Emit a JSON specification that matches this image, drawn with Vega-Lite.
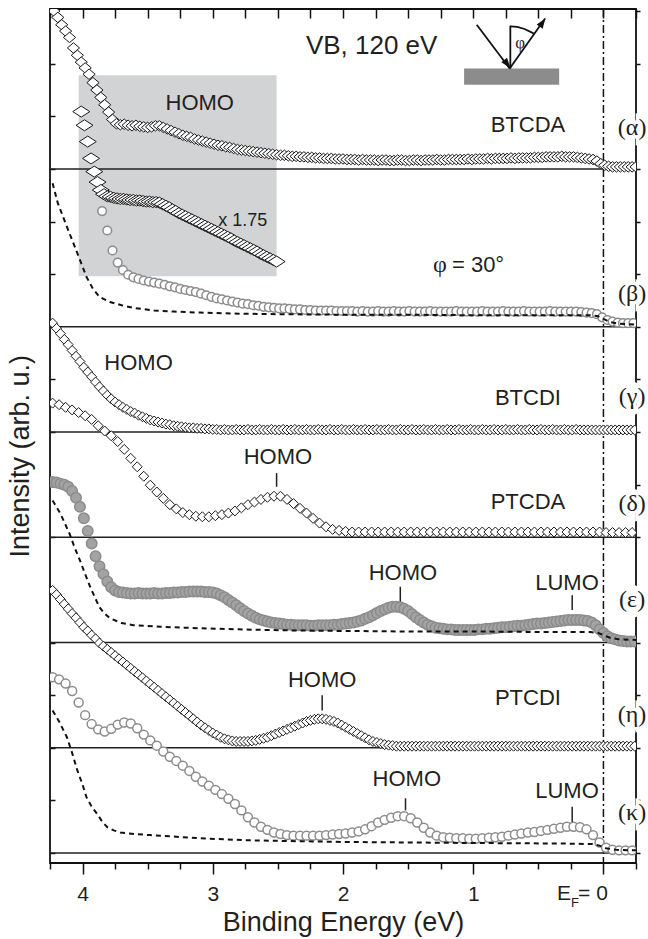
{
"$schema":"https://vega.github.io/schema/vega-lite/v6.json",
"width":586,"height":854,
"autosize":{"type":"none"},
"padding":{"left":50,"top":9,"right":12,"bottom":76},
"background":"white",
"config":{"view":{"stroke":"#111","strokeWidth":1.8},"font":"Liberation Sans"},
"datasets":{
"box":[{"e":4.03,"e2":2.51,"i":14.78,"i2":10.96}],
"marks":[{"e":2.51,"i":7.22,"i2":6.96},{"e":1.56,"i":5.06,"i2":4.77},{"e":0.24,"i":4.9,"i2":4.62},{"e":2.16,"i":3.0,"i2":2.71},{"e":1.52,"i":1.04,"i2":0.81},{"e":0.24,"i":0.88,"i2":0.59}],
"alpha":[{"e":4.22,"i":16.0},{"e":4.19,"i":15.88},{"e":4.16,"i":15.74},{"e":4.13,"i":15.62},{"e":4.1,"i":15.5},{"e":4.07,"i":15.3},{"e":4.04,"i":15.16},{"e":4.01,"i":15.03},{"e":3.98,"i":14.92},{"e":3.95,"i":14.8},{"e":3.92,"i":14.64},{"e":3.89,"i":14.5},{"e":3.86,"i":14.36},{"e":3.83,"i":14.22},{"e":3.8,"i":14.08},{"e":3.77,"i":13.94},{"e":3.74,"i":13.86},{"e":3.71,"i":13.84},{"e":3.68,"i":13.85},{"e":3.65,"i":13.83},{"e":3.62,"i":13.82},{"e":3.59,"i":13.83},{"e":3.56,"i":13.81},{"e":3.53,"i":13.8},{"e":3.5,"i":13.79},{"e":3.47,"i":13.8},{"e":3.44,"i":13.82},{"e":3.41,"i":13.82},{"e":3.38,"i":13.79},{"e":3.35,"i":13.76},{"e":3.32,"i":13.73},{"e":3.29,"i":13.7},{"e":3.26,"i":13.67},{"e":3.23,"i":13.64},{"e":3.2,"i":13.62},{"e":3.17,"i":13.6},{"e":3.14,"i":13.57},{"e":3.11,"i":13.55},{"e":3.08,"i":13.53},{"e":3.05,"i":13.51},{"e":3.02,"i":13.49},{"e":2.99,"i":13.47},{"e":2.96,"i":13.45},{"e":2.93,"i":13.44},{"e":2.9,"i":13.42},{"e":2.87,"i":13.41},{"e":2.84,"i":13.39},{"e":2.81,"i":13.37},{"e":2.78,"i":13.36},{"e":2.75,"i":13.35},{"e":2.72,"i":13.34},{"e":2.69,"i":13.33},{"e":2.66,"i":13.32},{"e":2.63,"i":13.31},{"e":2.6,"i":13.3},{"e":2.57,"i":13.29},{"e":2.54,"i":13.28},{"e":2.51,"i":13.27},{"e":2.48,"i":13.26},{"e":2.45,"i":13.26},{"e":2.42,"i":13.25},{"e":2.39,"i":13.24},{"e":2.36,"i":13.24},{"e":2.33,"i":13.23},{"e":2.3,"i":13.23},{"e":2.27,"i":13.22},{"e":2.24,"i":13.22},{"e":2.21,"i":13.21},{"e":2.18,"i":13.21},{"e":2.15,"i":13.2},{"e":2.12,"i":13.2},{"e":2.09,"i":13.2},{"e":2.06,"i":13.19},{"e":2.03,"i":13.19},{"e":2.0,"i":13.19},{"e":1.97,"i":13.18},{"e":1.94,"i":13.18},{"e":1.91,"i":13.18},{"e":1.88,"i":13.17},{"e":1.85,"i":13.18},{"e":1.82,"i":13.17},{"e":1.79,"i":13.17},{"e":1.76,"i":13.17},{"e":1.73,"i":13.16},{"e":1.7,"i":13.17},{"e":1.67,"i":13.17},{"e":1.64,"i":13.16},{"e":1.61,"i":13.16},{"e":1.58,"i":13.17},{"e":1.55,"i":13.17},{"e":1.52,"i":13.16},{"e":1.49,"i":13.16},{"e":1.46,"i":13.17},{"e":1.43,"i":13.17},{"e":1.4,"i":13.16},{"e":1.37,"i":13.17},{"e":1.34,"i":13.17},{"e":1.31,"i":13.17},{"e":1.28,"i":13.18},{"e":1.25,"i":13.17},{"e":1.22,"i":13.17},{"e":1.19,"i":13.18},{"e":1.16,"i":13.18},{"e":1.13,"i":13.18},{"e":1.1,"i":13.18},{"e":1.07,"i":13.18},{"e":1.04,"i":13.19},{"e":1.01,"i":13.18},{"e":0.98,"i":13.19},{"e":0.95,"i":13.19},{"e":0.92,"i":13.19},{"e":0.89,"i":13.2},{"e":0.86,"i":13.19},{"e":0.83,"i":13.2},{"e":0.8,"i":13.2},{"e":0.77,"i":13.2},{"e":0.74,"i":13.2},{"e":0.71,"i":13.21},{"e":0.68,"i":13.2},{"e":0.65,"i":13.21},{"e":0.62,"i":13.21},{"e":0.59,"i":13.21},{"e":0.56,"i":13.21},{"e":0.53,"i":13.22},{"e":0.5,"i":13.22},{"e":0.47,"i":13.22},{"e":0.44,"i":13.23},{"e":0.41,"i":13.23},{"e":0.38,"i":13.23},{"e":0.35,"i":13.23},{"e":0.32,"i":13.24},{"e":0.29,"i":13.23},{"e":0.26,"i":13.23},{"e":0.23,"i":13.23},{"e":0.2,"i":13.22},{"e":0.17,"i":13.21},{"e":0.14,"i":13.2},{"e":0.11,"i":13.19},{"e":0.08,"i":13.18},{"e":0.05,"i":13.15},{"e":0.02,"i":13.1},{"e":-0.01,"i":13.07},{"e":-0.04,"i":13.05},{"e":-0.07,"i":13.04},{"e":-0.1,"i":13.04},{"e":-0.13,"i":13.04},{"e":-0.16,"i":13.04},{"e":-0.19,"i":13.04},{"e":-0.22,"i":13.04},{"e":-0.25,"i":13.04}],
"mag":[{"e":4.01,"i":14.09},{"e":3.985,"i":13.83},{"e":3.96,"i":13.52},{"e":3.935,"i":13.2},{"e":3.91,"i":12.95},{"e":3.885,"i":12.75},{"e":3.86,"i":12.6},{"e":3.835,"i":12.52},{"e":3.81,"i":12.48},{"e":3.785,"i":12.47},{"e":3.76,"i":12.45},{"e":3.735,"i":12.44},{"e":3.71,"i":12.43},{"e":3.685,"i":12.43},{"e":3.66,"i":12.42},{"e":3.635,"i":12.41},{"e":3.61,"i":12.41},{"e":3.585,"i":12.4},{"e":3.56,"i":12.4},{"e":3.535,"i":12.39},{"e":3.51,"i":12.38},{"e":3.485,"i":12.38},{"e":3.46,"i":12.37},{"e":3.435,"i":12.37},{"e":3.41,"i":12.36},{"e":3.385,"i":12.33},{"e":3.36,"i":12.3},{"e":3.335,"i":12.27},{"e":3.31,"i":12.23},{"e":3.285,"i":12.2},{"e":3.26,"i":12.16},{"e":3.235,"i":12.13},{"e":3.21,"i":12.1},{"e":3.185,"i":12.07},{"e":3.16,"i":12.04},{"e":3.135,"i":12.01},{"e":3.11,"i":11.98},{"e":3.085,"i":11.95},{"e":3.06,"i":11.92},{"e":3.035,"i":11.89},{"e":3.01,"i":11.86},{"e":2.985,"i":11.83},{"e":2.96,"i":11.8},{"e":2.935,"i":11.77},{"e":2.91,"i":11.74},{"e":2.885,"i":11.71},{"e":2.86,"i":11.68},{"e":2.835,"i":11.64},{"e":2.81,"i":11.61},{"e":2.785,"i":11.58},{"e":2.76,"i":11.55},{"e":2.735,"i":11.52},{"e":2.71,"i":11.49},{"e":2.685,"i":11.46},{"e":2.66,"i":11.43},{"e":2.635,"i":11.39},{"e":2.61,"i":11.36},{"e":2.585,"i":11.33},{"e":2.56,"i":11.3},{"e":2.535,"i":11.27},{"e":2.51,"i":11.24}],
"beta":[{"e":3.85,"i":12.2},{"e":3.81,"i":11.83},{"e":3.77,"i":11.45},{"e":3.73,"i":11.22},{"e":3.69,"i":11.08},{"e":3.65,"i":10.99},{"e":3.61,"i":10.94},{"e":3.57,"i":10.91},{"e":3.53,"i":10.88},{"e":3.49,"i":10.86},{"e":3.45,"i":10.84},{"e":3.41,"i":10.82},{"e":3.37,"i":10.8},{"e":3.33,"i":10.77},{"e":3.29,"i":10.75},{"e":3.25,"i":10.72},{"e":3.21,"i":10.7},{"e":3.17,"i":10.68},{"e":3.13,"i":10.66},{"e":3.09,"i":10.63},{"e":3.05,"i":10.6},{"e":3.01,"i":10.57},{"e":2.97,"i":10.54},{"e":2.93,"i":10.52},{"e":2.89,"i":10.5},{"e":2.85,"i":10.48},{"e":2.81,"i":10.46},{"e":2.77,"i":10.44},{"e":2.73,"i":10.43},{"e":2.69,"i":10.41},{"e":2.65,"i":10.4},{"e":2.61,"i":10.38},{"e":2.57,"i":10.37},{"e":2.53,"i":10.36},{"e":2.49,"i":10.35},{"e":2.45,"i":10.35},{"e":2.41,"i":10.34},{"e":2.37,"i":10.33},{"e":2.33,"i":10.33},{"e":2.29,"i":10.32},{"e":2.25,"i":10.32},{"e":2.21,"i":10.31},{"e":2.17,"i":10.31},{"e":2.13,"i":10.31},{"e":2.09,"i":10.31},{"e":2.05,"i":10.3},{"e":2.01,"i":10.3},{"e":1.97,"i":10.3},{"e":1.93,"i":10.3},{"e":1.89,"i":10.29},{"e":1.85,"i":10.3},{"e":1.81,"i":10.29},{"e":1.77,"i":10.29},{"e":1.73,"i":10.3},{"e":1.69,"i":10.29},{"e":1.65,"i":10.29},{"e":1.61,"i":10.3},{"e":1.57,"i":10.29},{"e":1.53,"i":10.29},{"e":1.49,"i":10.3},{"e":1.45,"i":10.29},{"e":1.41,"i":10.29},{"e":1.37,"i":10.29},{"e":1.33,"i":10.3},{"e":1.29,"i":10.29},{"e":1.25,"i":10.29},{"e":1.21,"i":10.29},{"e":1.17,"i":10.29},{"e":1.13,"i":10.3},{"e":1.09,"i":10.29},{"e":1.05,"i":10.29},{"e":1.01,"i":10.29},{"e":0.97,"i":10.29},{"e":0.93,"i":10.3},{"e":0.89,"i":10.29},{"e":0.85,"i":10.29},{"e":0.81,"i":10.29},{"e":0.77,"i":10.3},{"e":0.73,"i":10.29},{"e":0.69,"i":10.29},{"e":0.65,"i":10.29},{"e":0.61,"i":10.3},{"e":0.57,"i":10.29},{"e":0.53,"i":10.29},{"e":0.49,"i":10.29},{"e":0.45,"i":10.29},{"e":0.41,"i":10.3},{"e":0.37,"i":10.29},{"e":0.33,"i":10.29},{"e":0.29,"i":10.29},{"e":0.25,"i":10.29},{"e":0.21,"i":10.29},{"e":0.17,"i":10.28},{"e":0.13,"i":10.27},{"e":0.09,"i":10.26},{"e":0.05,"i":10.24},{"e":0.01,"i":10.18},{"e":-0.03,"i":10.13},{"e":-0.07,"i":10.1},{"e":-0.11,"i":10.08},{"e":-0.15,"i":10.07},{"e":-0.19,"i":10.07},{"e":-0.23,"i":10.07}],
"gamma":[{"e":4.23,"i":10.07},{"e":4.2,"i":9.97},{"e":4.17,"i":9.87},{"e":4.14,"i":9.76},{"e":4.11,"i":9.66},{"e":4.08,"i":9.55},{"e":4.05,"i":9.44},{"e":4.02,"i":9.34},{"e":3.99,"i":9.23},{"e":3.96,"i":9.14},{"e":3.93,"i":9.05},{"e":3.9,"i":8.95},{"e":3.87,"i":8.86},{"e":3.84,"i":8.78},{"e":3.81,"i":8.7},{"e":3.78,"i":8.63},{"e":3.75,"i":8.57},{"e":3.72,"i":8.52},{"e":3.69,"i":8.47},{"e":3.66,"i":8.43},{"e":3.63,"i":8.39},{"e":3.6,"i":8.36},{"e":3.57,"i":8.32},{"e":3.54,"i":8.29},{"e":3.51,"i":8.26},{"e":3.48,"i":8.23},{"e":3.45,"i":8.21},{"e":3.42,"i":8.19},{"e":3.39,"i":8.17},{"e":3.36,"i":8.15},{"e":3.33,"i":8.14},{"e":3.3,"i":8.12},{"e":3.27,"i":8.11},{"e":3.24,"i":8.1},{"e":3.21,"i":8.09},{"e":3.18,"i":8.08},{"e":3.15,"i":8.08},{"e":3.12,"i":8.07},{"e":3.09,"i":8.07},{"e":3.06,"i":8.06},{"e":3.03,"i":8.06},{"e":3.0,"i":8.05},{"e":2.97,"i":8.05},{"e":2.94,"i":8.04},{"e":2.91,"i":8.05},{"e":2.88,"i":8.04},{"e":2.85,"i":8.04},{"e":2.82,"i":8.05},{"e":2.79,"i":8.04},{"e":2.76,"i":8.04},{"e":2.73,"i":8.05},{"e":2.7,"i":8.04},{"e":2.67,"i":8.04},{"e":2.64,"i":8.05},{"e":2.61,"i":8.04},{"e":2.58,"i":8.04},{"e":2.55,"i":8.05},{"e":2.52,"i":8.04},{"e":2.49,"i":8.04},{"e":2.46,"i":8.05},{"e":2.43,"i":8.04},{"e":2.4,"i":8.04},{"e":2.37,"i":8.05},{"e":2.34,"i":8.04},{"e":2.31,"i":8.04},{"e":2.28,"i":8.05},{"e":2.25,"i":8.04},{"e":2.22,"i":8.04},{"e":2.19,"i":8.05},{"e":2.16,"i":8.04},{"e":2.13,"i":8.04},{"e":2.1,"i":8.05},{"e":2.07,"i":8.04},{"e":2.04,"i":8.04},{"e":2.01,"i":8.05},{"e":1.98,"i":8.04},{"e":1.95,"i":8.04},{"e":1.92,"i":8.05},{"e":1.89,"i":8.04},{"e":1.86,"i":8.04},{"e":1.83,"i":8.05},{"e":1.8,"i":8.04},{"e":1.77,"i":8.04},{"e":1.74,"i":8.05},{"e":1.71,"i":8.04},{"e":1.68,"i":8.04},{"e":1.65,"i":8.05},{"e":1.62,"i":8.04},{"e":1.59,"i":8.04},{"e":1.56,"i":8.05},{"e":1.53,"i":8.04},{"e":1.5,"i":8.04},{"e":1.47,"i":8.05},{"e":1.44,"i":8.04},{"e":1.41,"i":8.04},{"e":1.38,"i":8.05},{"e":1.35,"i":8.04},{"e":1.32,"i":8.04},{"e":1.29,"i":8.05},{"e":1.26,"i":8.04},{"e":1.23,"i":8.04},{"e":1.2,"i":8.05},{"e":1.17,"i":8.04},{"e":1.14,"i":8.04},{"e":1.11,"i":8.05},{"e":1.08,"i":8.04},{"e":1.05,"i":8.04},{"e":1.02,"i":8.05},{"e":0.99,"i":8.04},{"e":0.96,"i":8.04},{"e":0.93,"i":8.05},{"e":0.9,"i":8.04},{"e":0.87,"i":8.04},{"e":0.84,"i":8.05},{"e":0.81,"i":8.04},{"e":0.78,"i":8.04},{"e":0.75,"i":8.05},{"e":0.72,"i":8.04},{"e":0.69,"i":8.04},{"e":0.66,"i":8.05},{"e":0.63,"i":8.04},{"e":0.6,"i":8.04},{"e":0.57,"i":8.05},{"e":0.54,"i":8.04},{"e":0.51,"i":8.04},{"e":0.48,"i":8.05},{"e":0.45,"i":8.04},{"e":0.42,"i":8.04},{"e":0.39,"i":8.05},{"e":0.36,"i":8.04},{"e":0.33,"i":8.04},{"e":0.3,"i":8.05},{"e":0.27,"i":8.04},{"e":0.24,"i":8.04},{"e":0.21,"i":8.05},{"e":0.18,"i":8.04},{"e":0.15,"i":8.04},{"e":0.12,"i":8.04},{"e":0.09,"i":8.04},{"e":0.06,"i":8.04},{"e":0.03,"i":8.04},{"e":0.0,"i":8.04},{"e":-0.03,"i":8.04},{"e":-0.06,"i":8.04},{"e":-0.09,"i":8.04},{"e":-0.12,"i":8.04},{"e":-0.15,"i":8.04},{"e":-0.18,"i":8.04},{"e":-0.21,"i":8.04},{"e":-0.24,"i":8.04}],
"delta":[{"e":4.23,"i":8.55},{"e":4.18,"i":8.52},{"e":4.13,"i":8.47},{"e":4.08,"i":8.42},{"e":4.03,"i":8.37},{"e":3.98,"i":8.31},{"e":3.93,"i":8.24},{"e":3.88,"i":8.12},{"e":3.83,"i":8.02},{"e":3.78,"i":7.93},{"e":3.73,"i":7.82},{"e":3.68,"i":7.67},{"e":3.63,"i":7.5},{"e":3.58,"i":7.34},{"e":3.53,"i":7.16},{"e":3.48,"i":6.99},{"e":3.43,"i":6.86},{"e":3.38,"i":6.74},{"e":3.33,"i":6.62},{"e":3.28,"i":6.54},{"e":3.23,"i":6.47},{"e":3.18,"i":6.43},{"e":3.13,"i":6.4},{"e":3.08,"i":6.39},{"e":3.03,"i":6.39},{"e":2.98,"i":6.41},{"e":2.93,"i":6.43},{"e":2.88,"i":6.46},{"e":2.83,"i":6.5},{"e":2.78,"i":6.56},{"e":2.73,"i":6.62},{"e":2.68,"i":6.67},{"e":2.63,"i":6.72},{"e":2.58,"i":6.76},{"e":2.53,"i":6.78},{"e":2.48,"i":6.78},{"e":2.43,"i":6.72},{"e":2.38,"i":6.64},{"e":2.33,"i":6.55},{"e":2.28,"i":6.46},{"e":2.23,"i":6.36},{"e":2.18,"i":6.27},{"e":2.13,"i":6.2},{"e":2.08,"i":6.15},{"e":2.03,"i":6.13},{"e":1.98,"i":6.11},{"e":1.93,"i":6.1},{"e":1.88,"i":6.1},{"e":1.83,"i":6.1},{"e":1.78,"i":6.1},{"e":1.73,"i":6.1},{"e":1.68,"i":6.1},{"e":1.63,"i":6.1},{"e":1.58,"i":6.1},{"e":1.53,"i":6.1},{"e":1.48,"i":6.1},{"e":1.43,"i":6.1},{"e":1.38,"i":6.1},{"e":1.33,"i":6.1},{"e":1.28,"i":6.1},{"e":1.23,"i":6.1},{"e":1.18,"i":6.1},{"e":1.13,"i":6.1},{"e":1.08,"i":6.1},{"e":1.03,"i":6.1},{"e":0.98,"i":6.1},{"e":0.93,"i":6.1},{"e":0.88,"i":6.1},{"e":0.83,"i":6.1},{"e":0.78,"i":6.1},{"e":0.73,"i":6.1},{"e":0.68,"i":6.1},{"e":0.63,"i":6.1},{"e":0.58,"i":6.1},{"e":0.53,"i":6.1},{"e":0.48,"i":6.1},{"e":0.43,"i":6.1},{"e":0.38,"i":6.1},{"e":0.33,"i":6.1},{"e":0.28,"i":6.1},{"e":0.23,"i":6.1},{"e":0.18,"i":6.1},{"e":0.13,"i":6.1},{"e":0.08,"i":6.1},{"e":0.03,"i":6.1},{"e":-0.02,"i":6.09},{"e":-0.07,"i":6.09},{"e":-0.12,"i":6.09},{"e":-0.17,"i":6.09},{"e":-0.22,"i":6.09}],
"eps":[{"e":4.23,"i":7.05},{"e":4.2,"i":7.04},{"e":4.17,"i":7.02},{"e":4.14,"i":7.0},{"e":4.11,"i":6.96},{"e":4.08,"i":6.88},{"e":4.05,"i":6.75},{"e":4.02,"i":6.58},{"e":3.99,"i":6.36},{"e":3.96,"i":6.12},{"e":3.93,"i":5.88},{"e":3.9,"i":5.64},{"e":3.87,"i":5.45},{"e":3.84,"i":5.3},{"e":3.81,"i":5.16},{"e":3.78,"i":5.05},{"e":3.75,"i":4.99},{"e":3.72,"i":4.96},{"e":3.69,"i":4.95},{"e":3.66,"i":4.94},{"e":3.63,"i":4.93},{"e":3.6,"i":4.93},{"e":3.57,"i":4.94},{"e":3.54,"i":4.93},{"e":3.51,"i":4.93},{"e":3.48,"i":4.93},{"e":3.45,"i":4.94},{"e":3.42,"i":4.93},{"e":3.39,"i":4.93},{"e":3.36,"i":4.94},{"e":3.33,"i":4.94},{"e":3.3,"i":4.95},{"e":3.27,"i":4.95},{"e":3.24,"i":4.96},{"e":3.21,"i":4.96},{"e":3.18,"i":4.97},{"e":3.15,"i":4.97},{"e":3.12,"i":4.97},{"e":3.09,"i":4.97},{"e":3.06,"i":4.96},{"e":3.03,"i":4.96},{"e":3.0,"i":4.95},{"e":2.97,"i":4.93},{"e":2.94,"i":4.9},{"e":2.91,"i":4.86},{"e":2.88,"i":4.81},{"e":2.85,"i":4.76},{"e":2.82,"i":4.71},{"e":2.79,"i":4.65},{"e":2.76,"i":4.6},{"e":2.73,"i":4.55},{"e":2.7,"i":4.51},{"e":2.67,"i":4.47},{"e":2.64,"i":4.44},{"e":2.61,"i":4.42},{"e":2.58,"i":4.4},{"e":2.55,"i":4.38},{"e":2.52,"i":4.37},{"e":2.49,"i":4.36},{"e":2.46,"i":4.35},{"e":2.43,"i":4.34},{"e":2.4,"i":4.34},{"e":2.37,"i":4.33},{"e":2.34,"i":4.33},{"e":2.31,"i":4.33},{"e":2.28,"i":4.33},{"e":2.25,"i":4.32},{"e":2.22,"i":4.32},{"e":2.19,"i":4.33},{"e":2.16,"i":4.33},{"e":2.13,"i":4.33},{"e":2.1,"i":4.33},{"e":2.07,"i":4.34},{"e":2.04,"i":4.34},{"e":2.01,"i":4.35},{"e":1.98,"i":4.36},{"e":1.95,"i":4.37},{"e":1.92,"i":4.38},{"e":1.89,"i":4.4},{"e":1.86,"i":4.42},{"e":1.83,"i":4.45},{"e":1.8,"i":4.48},{"e":1.77,"i":4.52},{"e":1.74,"i":4.56},{"e":1.71,"i":4.6},{"e":1.68,"i":4.63},{"e":1.65,"i":4.66},{"e":1.62,"i":4.68},{"e":1.59,"i":4.68},{"e":1.56,"i":4.67},{"e":1.53,"i":4.64},{"e":1.5,"i":4.6},{"e":1.47,"i":4.54},{"e":1.44,"i":4.48},{"e":1.41,"i":4.43},{"e":1.38,"i":4.38},{"e":1.35,"i":4.34},{"e":1.32,"i":4.31},{"e":1.29,"i":4.28},{"e":1.26,"i":4.27},{"e":1.23,"i":4.26},{"e":1.2,"i":4.25},{"e":1.17,"i":4.25},{"e":1.14,"i":4.24},{"e":1.11,"i":4.24},{"e":1.08,"i":4.24},{"e":1.05,"i":4.24},{"e":1.02,"i":4.24},{"e":0.99,"i":4.24},{"e":0.96,"i":4.25},{"e":0.93,"i":4.25},{"e":0.9,"i":4.26},{"e":0.87,"i":4.26},{"e":0.84,"i":4.27},{"e":0.81,"i":4.28},{"e":0.78,"i":4.29},{"e":0.75,"i":4.29},{"e":0.72,"i":4.3},{"e":0.69,"i":4.31},{"e":0.66,"i":4.32},{"e":0.63,"i":4.32},{"e":0.6,"i":4.33},{"e":0.57,"i":4.34},{"e":0.54,"i":4.35},{"e":0.51,"i":4.36},{"e":0.48,"i":4.36},{"e":0.45,"i":4.37},{"e":0.42,"i":4.38},{"e":0.39,"i":4.39},{"e":0.36,"i":4.4},{"e":0.33,"i":4.41},{"e":0.3,"i":4.42},{"e":0.27,"i":4.43},{"e":0.24,"i":4.43},{"e":0.21,"i":4.43},{"e":0.18,"i":4.43},{"e":0.15,"i":4.42},{"e":0.12,"i":4.41},{"e":0.09,"i":4.38},{"e":0.06,"i":4.33},{"e":0.03,"i":4.25},{"e":0.0,"i":4.18},{"e":-0.03,"i":4.12},{"e":-0.06,"i":4.08},{"e":-0.09,"i":4.06},{"e":-0.12,"i":4.04},{"e":-0.15,"i":4.03},{"e":-0.18,"i":4.02},{"e":-0.21,"i":4.02},{"e":-0.24,"i":4.02}],
"eta":[{"e":4.23,"i":4.99},{"e":4.2,"i":4.91},{"e":4.17,"i":4.82},{"e":4.14,"i":4.73},{"e":4.11,"i":4.64},{"e":4.08,"i":4.55},{"e":4.05,"i":4.47},{"e":4.02,"i":4.38},{"e":3.99,"i":4.29},{"e":3.96,"i":4.22},{"e":3.93,"i":4.14},{"e":3.9,"i":4.07},{"e":3.87,"i":3.99},{"e":3.84,"i":3.93},{"e":3.81,"i":3.87},{"e":3.78,"i":3.81},{"e":3.75,"i":3.75},{"e":3.72,"i":3.69},{"e":3.69,"i":3.63},{"e":3.66,"i":3.57},{"e":3.63,"i":3.51},{"e":3.6,"i":3.45},{"e":3.57,"i":3.39},{"e":3.54,"i":3.33},{"e":3.51,"i":3.27},{"e":3.48,"i":3.21},{"e":3.45,"i":3.15},{"e":3.42,"i":3.09},{"e":3.39,"i":3.03},{"e":3.36,"i":2.97},{"e":3.33,"i":2.91},{"e":3.3,"i":2.85},{"e":3.27,"i":2.79},{"e":3.24,"i":2.73},{"e":3.21,"i":2.67},{"e":3.18,"i":2.61},{"e":3.15,"i":2.55},{"e":3.12,"i":2.49},{"e":3.09,"i":2.43},{"e":3.06,"i":2.38},{"e":3.03,"i":2.33},{"e":3.0,"i":2.28},{"e":2.97,"i":2.24},{"e":2.94,"i":2.2},{"e":2.91,"i":2.17},{"e":2.88,"i":2.15},{"e":2.85,"i":2.13},{"e":2.82,"i":2.12},{"e":2.79,"i":2.12},{"e":2.76,"i":2.12},{"e":2.73,"i":2.12},{"e":2.7,"i":2.13},{"e":2.67,"i":2.14},{"e":2.64,"i":2.16},{"e":2.61,"i":2.18},{"e":2.58,"i":2.2},{"e":2.55,"i":2.23},{"e":2.52,"i":2.26},{"e":2.49,"i":2.29},{"e":2.46,"i":2.32},{"e":2.43,"i":2.35},{"e":2.4,"i":2.38},{"e":2.37,"i":2.41},{"e":2.34,"i":2.44},{"e":2.31,"i":2.47},{"e":2.28,"i":2.5},{"e":2.25,"i":2.52},{"e":2.22,"i":2.54},{"e":2.19,"i":2.55},{"e":2.16,"i":2.55},{"e":2.13,"i":2.54},{"e":2.1,"i":2.52},{"e":2.07,"i":2.5},{"e":2.04,"i":2.47},{"e":2.01,"i":2.43},{"e":1.98,"i":2.39},{"e":1.95,"i":2.35},{"e":1.92,"i":2.31},{"e":1.89,"i":2.27},{"e":1.86,"i":2.23},{"e":1.83,"i":2.19},{"e":1.8,"i":2.15},{"e":1.77,"i":2.12},{"e":1.74,"i":2.1},{"e":1.71,"i":2.08},{"e":1.68,"i":2.06},{"e":1.65,"i":2.05},{"e":1.62,"i":2.04},{"e":1.59,"i":2.03},{"e":1.56,"i":2.03},{"e":1.53,"i":2.03},{"e":1.5,"i":2.03},{"e":1.47,"i":2.03},{"e":1.44,"i":2.03},{"e":1.41,"i":2.03},{"e":1.38,"i":2.03},{"e":1.35,"i":2.03},{"e":1.32,"i":2.03},{"e":1.29,"i":2.03},{"e":1.26,"i":2.03},{"e":1.23,"i":2.03},{"e":1.2,"i":2.03},{"e":1.17,"i":2.03},{"e":1.14,"i":2.03},{"e":1.11,"i":2.03},{"e":1.08,"i":2.03},{"e":1.05,"i":2.03},{"e":1.02,"i":2.03},{"e":0.99,"i":2.03},{"e":0.96,"i":2.03},{"e":0.93,"i":2.03},{"e":0.9,"i":2.03},{"e":0.87,"i":2.03},{"e":0.84,"i":2.03},{"e":0.81,"i":2.03},{"e":0.78,"i":2.03},{"e":0.75,"i":2.03},{"e":0.72,"i":2.03},{"e":0.69,"i":2.03},{"e":0.66,"i":2.03},{"e":0.63,"i":2.03},{"e":0.6,"i":2.03},{"e":0.57,"i":2.03},{"e":0.54,"i":2.03},{"e":0.51,"i":2.03},{"e":0.48,"i":2.03},{"e":0.45,"i":2.03},{"e":0.42,"i":2.03},{"e":0.39,"i":2.03},{"e":0.36,"i":2.03},{"e":0.33,"i":2.03},{"e":0.3,"i":2.03},{"e":0.27,"i":2.03},{"e":0.24,"i":2.03},{"e":0.21,"i":2.03},{"e":0.18,"i":2.03},{"e":0.15,"i":2.03},{"e":0.12,"i":2.03},{"e":0.09,"i":2.03},{"e":0.06,"i":2.03},{"e":0.03,"i":2.03},{"e":0.0,"i":2.03},{"e":-0.03,"i":2.03},{"e":-0.06,"i":2.03},{"e":-0.09,"i":2.03},{"e":-0.12,"i":2.03},{"e":-0.15,"i":2.03},{"e":-0.18,"i":2.03},{"e":-0.21,"i":2.03},{"e":-0.24,"i":2.03}],
"kappa":[{"e":4.23,"i":3.34},{"e":4.18,"i":3.3},{"e":4.13,"i":3.22},{"e":4.08,"i":3.08},{"e":4.03,"i":2.86},{"e":3.98,"i":2.62},{"e":3.93,"i":2.45},{"e":3.88,"i":2.35},{"e":3.83,"i":2.31},{"e":3.78,"i":2.36},{"e":3.73,"i":2.44},{"e":3.68,"i":2.48},{"e":3.63,"i":2.46},{"e":3.58,"i":2.37},{"e":3.53,"i":2.25},{"e":3.48,"i":2.14},{"e":3.43,"i":2.04},{"e":3.38,"i":1.93},{"e":3.33,"i":1.83},{"e":3.28,"i":1.75},{"e":3.23,"i":1.66},{"e":3.18,"i":1.56},{"e":3.13,"i":1.45},{"e":3.08,"i":1.36},{"e":3.03,"i":1.28},{"e":2.98,"i":1.2},{"e":2.93,"i":1.12},{"e":2.88,"i":1.03},{"e":2.83,"i":0.93},{"e":2.78,"i":0.81},{"e":2.73,"i":0.68},{"e":2.68,"i":0.58},{"e":2.63,"i":0.5},{"e":2.58,"i":0.44},{"e":2.53,"i":0.39},{"e":2.48,"i":0.36},{"e":2.43,"i":0.34},{"e":2.38,"i":0.33},{"e":2.33,"i":0.33},{"e":2.28,"i":0.33},{"e":2.23,"i":0.33},{"e":2.18,"i":0.33},{"e":2.13,"i":0.34},{"e":2.08,"i":0.35},{"e":2.03,"i":0.36},{"e":1.98,"i":0.37},{"e":1.93,"i":0.39},{"e":1.88,"i":0.41},{"e":1.83,"i":0.45},{"e":1.78,"i":0.51},{"e":1.73,"i":0.58},{"e":1.68,"i":0.63},{"e":1.63,"i":0.67},{"e":1.58,"i":0.7},{"e":1.53,"i":0.7},{"e":1.48,"i":0.66},{"e":1.43,"i":0.58},{"e":1.38,"i":0.48},{"e":1.33,"i":0.39},{"e":1.28,"i":0.33},{"e":1.23,"i":0.3},{"e":1.18,"i":0.29},{"e":1.13,"i":0.28},{"e":1.08,"i":0.28},{"e":1.03,"i":0.27},{"e":0.98,"i":0.27},{"e":0.93,"i":0.28},{"e":0.88,"i":0.29},{"e":0.83,"i":0.3},{"e":0.78,"i":0.31},{"e":0.73,"i":0.33},{"e":0.68,"i":0.35},{"e":0.63,"i":0.37},{"e":0.58,"i":0.39},{"e":0.53,"i":0.4},{"e":0.48,"i":0.42},{"e":0.43,"i":0.44},{"e":0.38,"i":0.46},{"e":0.33,"i":0.48},{"e":0.28,"i":0.5},{"e":0.23,"i":0.5},{"e":0.18,"i":0.49},{"e":0.13,"i":0.45},{"e":0.08,"i":0.34},{"e":0.03,"i":0.2},{"e":-0.02,"i":0.1},{"e":-0.07,"i":0.06},{"e":-0.12,"i":0.05},{"e":-0.17,"i":0.05},{"e":-0.22,"i":0.05}],
"dash":[{"g":"b","e":4.23,"i":12.73},{"g":"b","e":4.19,"i":12.35},{"g":"b","e":4.12,"i":11.9},{"g":"b","e":4.04,"i":11.4},{"g":"b","e":3.97,"i":10.95},{"g":"b","e":3.92,"i":10.72},{"g":"b","e":3.87,"i":10.57},{"g":"b","e":3.79,"i":10.47},{"g":"b","e":3.7,"i":10.41},{"g":"b","e":3.61,"i":10.36},{"g":"b","e":3.45,"i":10.31},{"g":"b","e":3.3,"i":10.29},{"g":"b","e":3.1,"i":10.27},{"g":"b","e":2.8,"i":10.25},{"g":"b","e":2.5,"i":10.24},{"g":"b","e":2.0,"i":10.23},{"g":"b","e":1.5,"i":10.23},{"g":"b","e":1.0,"i":10.22},{"g":"b","e":0.5,"i":10.22},{"g":"b","e":0.1,"i":10.22},{"g":"b","e":0.04,"i":10.2},{"g":"b","e":0.0,"i":10.15},{"g":"b","e":-0.05,"i":10.09},{"g":"b","e":-0.12,"i":10.06},{"g":"b","e":-0.25,"i":10.04},
{"g":"e","e":4.23,"i":6.7},{"g":"e","e":4.17,"i":6.45},{"g":"e","e":4.1,"i":6.07},{"g":"e","e":4.06,"i":5.8},{"g":"e","e":4.02,"i":5.56},{"g":"e","e":3.98,"i":5.3},{"g":"e","e":3.94,"i":5.05},{"g":"e","e":3.9,"i":4.83},{"g":"e","e":3.87,"i":4.67},{"g":"e","e":3.83,"i":4.55},{"g":"e","e":3.79,"i":4.46},{"g":"e","e":3.7,"i":4.37},{"g":"e","e":3.61,"i":4.33},{"g":"e","e":3.4,"i":4.3},{"g":"e","e":3.1,"i":4.27},{"g":"e","e":2.8,"i":4.25},{"g":"e","e":2.4,"i":4.23},{"g":"e","e":2.0,"i":4.22},{"g":"e","e":1.5,"i":4.21},{"g":"e","e":1.0,"i":4.21},{"g":"e","e":0.5,"i":4.2},{"g":"e","e":0.1,"i":4.2},{"g":"e","e":0.04,"i":4.18},{"g":"e","e":0.0,"i":4.14},{"g":"e","e":-0.05,"i":4.09},{"g":"e","e":-0.12,"i":4.06},{"g":"e","e":-0.25,"i":4.05},
{"g":"k","e":4.23,"i":2.71},{"g":"k","e":4.18,"i":2.5},{"g":"k","e":4.12,"i":2.2},{"g":"k","e":4.08,"i":1.9},{"g":"k","e":4.04,"i":1.57},{"g":"k","e":4.0,"i":1.3},{"g":"k","e":3.97,"i":1.06},{"g":"k","e":3.93,"i":0.88},{"g":"k","e":3.89,"i":0.75},{"g":"k","e":3.85,"i":0.6},{"g":"k","e":3.81,"i":0.49},{"g":"k","e":3.76,"i":0.43},{"g":"k","e":3.71,"i":0.39},{"g":"k","e":3.6,"i":0.36},{"g":"k","e":3.48,"i":0.34},{"g":"k","e":3.1,"i":0.28},{"g":"k","e":2.71,"i":0.24},{"g":"k","e":2.0,"i":0.21},{"g":"k","e":1.0,"i":0.19},{"g":"k","e":0.3,"i":0.18},{"g":"k","e":0.08,"i":0.17},{"g":"k","e":0.03,"i":0.14},{"g":"k","e":-0.02,"i":0.09},{"g":"k","e":-0.1,"i":0.06},{"g":"k","e":-0.25,"i":0.05}],
"icon":[{"g":"in","e":0.973,"i":15.74},{"g":"in","e":0.72,"i":14.91},{"g":"out","e":0.72,"i":14.91},{"g":"out","e":0.448,"i":15.86},{"g":"v","e":0.715,"i":15.72},{"g":"v","e":0.7149,"i":14.91},{"g":"arc","e":0.717,"i":15.71},{"g":"arc","e":0.661,"i":15.7},{"g":"arc","e":0.606,"i":15.66},{"g":"arc","e":0.556,"i":15.6},{"g":"arc","e":0.532,"i":15.57}],
"lab22":[{"t":"HOMO","e":3.1,"i":14.25},{"t":"BTCDA","e":0.58,"i":13.83},{"t":"HOMO","e":3.57,"i":9.32},{"t":"BTCDI","e":0.58,"i":8.64},{"t":"HOMO","e":2.5,"i":7.52},{"t":"PTCDA","e":0.58,"i":6.67},{"t":"HOMO","e":1.54,"i":5.32},{"t":"LUMO","e":0.28,"i":5.14},{"t":"HOMO","e":2.16,"i":3.29},{"t":"PTCDI","e":0.58,"i":2.94},{"t":"HOMO","e":1.51,"i":1.41},{"t":"LUMO","e":0.28,"i":1.18},{"t":"= 30°","e":0.963,"i":11.17}],
"greek":[{"t":"(α)","e":-0.22,"i":13.78},{"t":"(β)","e":-0.22,"i":10.63},{"t":"(γ)","e":-0.22,"i":8.66},{"t":"(δ)","e":-0.22,"i":6.64},{"t":"(ε)","e":-0.22,"i":4.8},{"t":"(η)","e":-0.22,"i":2.62},{"t":"(κ)","e":-0.22,"i":0.76}]
},
"layer":[
{"data":{"name":"box"},"mark":{"type":"rect","color":"#d1d3d4"},
 "encoding":{
  "x":{"field":"e","type":"quantitative","scale":{"domain":[-0.25,4.25],"reverse":true,"nice":false,"zero":false},
   "axis":{"orient":"bottom","values":[4.25,4,3.75,3.5,3.25,3,2.75,2.5,2.25,2,1.75,1.5,1.25,1,0.75,0.5,0.25,0,-0.25],"domain":false,"grid":false,
    "labelExpr":"abs(datum.value - round(datum.value)) < 0.01 && datum.value > 0.5 ? format(datum.value, 'd') : ''",
    "tickSize":{"condition":{"test":"abs(datum.value - round(datum.value)) < 0.01","value":11},"value":6},
    "tickColor":"#111","tickWidth":1.5,"labelFont":"Liberation Sans","labelFontSize":21,"labelColor":"#231f20","labelPadding":26,"labelBaseline":"alphabetic","labelFlush":false,"labelOverlap":false,
    "title":"Binding Energy (eV)","titleFont":"Liberation Sans","titleFontSize":27,"titleFontWeight":"normal","titleColor":"#231f20","titleBaseline":"alphabetic","titleY":67}},
  "x2":{"field":"e2"},
  "y":{"field":"i","type":"quantitative","scale":{"domain":[-0.19,16.04],"nice":false,"zero":false},
   "axis":{"orient":"left","offset":-5,"values":[0,1,2,3,4,5,6,7,8,9,10,11,12,13,14,15,16],"labels":false,"domain":false,"grid":false,"tickSize":5,"tickColor":"#111","tickWidth":1.5,
    "title":"Intensity (arb. u.)","titleFont":"Liberation Sans","titleFontSize":27,"titleFontWeight":"normal","titleColor":"#231f20","titleBaseline":"alphabetic","titleAlign":"left","titleAngle":-90,"titleX":-27,"titleY":548}},
  "y2":{"field":"i2"}}},
{"data":{"name":"marks"},"mark":{"type":"rule","color":"#231f20","strokeWidth":1.5},
 "encoding":{
  "x":{"field":"e","type":"quantitative","scale":{"domain":[-0.25,4.25],"reverse":true,"nice":false,"zero":false},
   "axis":{"orient":"top","offset":-9,"values":[4.25,4,3.75,3.5,3.25,3,2.75,2.5,2.25,2,1.75,1.5,1.25,1,0.75,0.5,0.25,0,-0.25],"labels":false,"domain":false,"grid":false,"title":null,
    "tickSize":9,"tickColor":"#111","tickWidth":1.5}},
  "y":{"field":"i","type":"quantitative","scale":{"domain":[-0.19,16.04],"nice":false,"zero":false},
   "axis":{"orient":"right","values":[0,1,2,3,4,5,6,7,8,9,10,11,12,13,14,15,16],"labels":false,"domain":false,"grid":false,"title":null,"tickSize":4,"tickColor":"#111","tickWidth":1.5}},
  "y2":{"field":"i2"}}},
{"data":{"values":[{"i":0},{"i":2},{"i":4},{"i":6},{"i":8},{"i":10},{"i":13}]},"mark":{"type":"rule","color":"#231f20","strokeWidth":1.5},
 "encoding":{"y":{"field":"i","type":"quantitative","scale":{"domain":[-0.19,16.04],"nice":false,"zero":false},"axis":null}}},
{"data":{"values":[{"e":0}]},"mark":{"type":"rule","color":"#111","strokeWidth":1.5,"strokeDash":[8,3,2,3]},
 "encoding":{"x":{"field":"e","type":"quantitative","scale":{"domain":[-0.25,4.25],"reverse":true,"nice":false,"zero":false},"axis":null}}},
{"encoding":{
  "x":{"field":"e","type":"quantitative","scale":{"domain":[-0.25,4.25],"reverse":true,"nice":false,"zero":false},"axis":null},
  "y":{"field":"i","type":"quantitative","scale":{"domain":[-0.19,16.04],"nice":false,"zero":false},"axis":null}},
 "layer":[
  {"data":{"name":"alpha"},"mark":{"type":"point","shape":"M-1,0L0,-0.85L1,0L0,0.85Z","size":150,"filled":true,"fill":"white","stroke":"#1a1a1a","strokeWidth":1,"opacity":1,"clip":true}},
  {"data":{"name":"mag"},"mark":{"type":"point","shape":"M-1,0L0,-0.65L1,0L0,0.65Z","size":289,"filled":true,"fill":"white","stroke":"#1a1a1a","strokeWidth":1,"opacity":1,"clip":true}},
  {"data":{"name":"beta"},"mark":{"type":"point","shape":"circle","size":75,"filled":true,"fill":"white","stroke":"#8c8c8c","strokeWidth":1.5,"opacity":1,"clip":true}},
  {"data":{"name":"gamma"},"mark":{"type":"point","shape":"diamond","size":100,"filled":true,"fill":"white","stroke":"#1a1a1a","strokeWidth":1,"opacity":1,"clip":true}},
  {"data":{"name":"delta"},"mark":{"type":"point","shape":"diamond","size":100,"filled":true,"fill":"white","stroke":"#1a1a1a","strokeWidth":1,"opacity":1,"clip":true}},
  {"data":{"name":"eps"},"mark":{"type":"point","shape":"circle","size":110,"filled":true,"fill":"#a3a3a3","stroke":"#8c8c8c","strokeWidth":1.5,"opacity":1,"clip":true}},
  {"data":{"name":"eta"},"mark":{"type":"point","shape":"diamond","size":100,"filled":true,"fill":"white","stroke":"#1a1a1a","strokeWidth":1,"opacity":1,"clip":true}},
  {"data":{"name":"kappa"},"mark":{"type":"point","shape":"circle","size":80,"filled":true,"fill":"white","stroke":"#8c8c8c","strokeWidth":1.5,"opacity":1,"clip":true}},
  {"data":{"name":"dash"},"mark":{"type":"line","color":"#111","strokeWidth":2,"strokeDash":[5,4],"clip":true},"encoding":{"detail":{"field":"g"}}},
  {"data":{"values":[{"e":1.07,"e2":0.34,"i":14.91,"i2":14.6}]},"mark":{"type":"rect","color":"#8c8c8c"},"encoding":{"x2":{"field":"e2"},"y2":{"field":"i2"}}},
  {"data":{"name":"icon"},"mark":{"type":"line","color":"#111","strokeWidth":1.8},"encoding":{"detail":{"field":"g"}}},
  {"data":{"values":[{"e":0.74,"i":15.0}]},"mark":{"type":"point","shape":"M0,-1L0.7,0.9L-0.7,0.9Z","size":110,"filled":true,"color":"#111","opacity":1,"angle":142}},
  {"data":{"values":[{"e":0.469,"i":15.78}]},"mark":{"type":"point","shape":"M0,-1L0.7,0.9L-0.7,0.9Z","size":110,"filled":true,"color":"#111","opacity":1,"angle":35}},
  {"data":{"values":[{"t":"φ","e":0.64,"i":15.39}]},"mark":{"type":"text","font":"Liberation Serif","fontSize":17,"color":"#231f20"},"encoding":{"text":{"field":"t"}}},
  {"data":{"name":"lab22"},"mark":{"type":"text","font":"Liberation Sans","fontSize":22,"color":"#231f20"},"encoding":{"text":{"field":"t"}}},
  {"data":{"values":[{"t":"φ","e":1.255,"i":11.17}]},"mark":{"type":"text","font":"Liberation Serif","fontSize":24,"color":"#231f20"},"encoding":{"text":{"field":"t"}}},
  {"data":{"values":[{"t":"VB, 120 eV","e":1.78,"i":15.34}]},"mark":{"type":"text","font":"Liberation Sans","fontSize":26,"color":"#231f20"},"encoding":{"text":{"field":"t"}}},
  {"data":{"values":[{"t":"x 1.75","e":2.77,"i":12.01}]},"mark":{"type":"text","font":"Liberation Sans","fontSize":18,"color":"#231f20"},"encoding":{"text":{"field":"t"}}},
  {"data":{"name":"greek"},"mark":{"type":"text","font":"Liberation Serif","fontSize":24,"color":"white","stroke":"white","strokeWidth":7},"encoding":{"text":{"field":"t"}}},
  {"data":{"name":"greek"},"mark":{"type":"text","font":"Liberation Serif","fontSize":24,"color":"#231f20"},"encoding":{"text":{"field":"t"}}},
  {"data":{"values":[{"t":"E","e":0.356,"i":-0.9}]},"mark":{"type":"text","font":"Liberation Sans","fontSize":21,"align":"left","baseline":"alphabetic","color":"#231f20"},"encoding":{"text":{"field":"t"}}},
  {"data":{"values":[{"t":"F","e":0.25,"i":-1.02}]},"mark":{"type":"text","font":"Liberation Sans","fontSize":13,"align":"left","baseline":"alphabetic","color":"#231f20"},"encoding":{"text":{"field":"t"}}},
  {"data":{"values":[{"t":"= 0","e":0.195,"i":-0.9}]},"mark":{"type":"text","font":"Liberation Sans","fontSize":21,"align":"left","baseline":"alphabetic","color":"#231f20"},"encoding":{"text":{"field":"t"}}}
 ]}
],
"resolve":{"axis":{"x":"independent","y":"independent"}}
}
